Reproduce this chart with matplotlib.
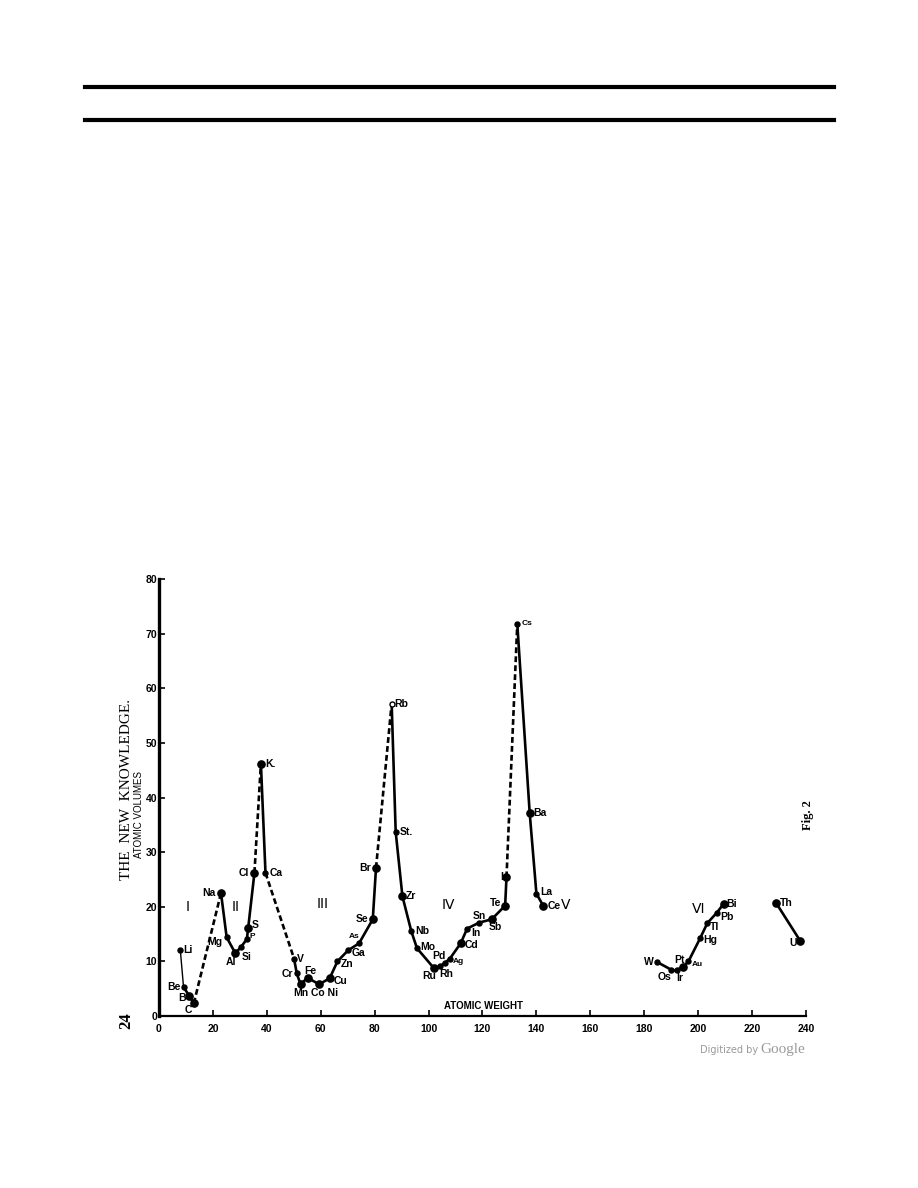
""" Lothar Meyer atomic volume curve, redrawn from a scanned page
    of 'The New Knowledge' (p. 24).
"""

###########
# Imports #
###########
import matplotlib
matplotlib.use("Agg")
import matplotlib.pyplot as plt
from matplotlib.lines import Line2D


########
# Data #
########
# Main curve, Li .. Ce
main_names = ["Li", "Be", "B", "C", "Na", "Mg", "Al", "Si", "P", "S", "Cl",
              "K.", "Ca", "V", "Cr", "Mn", "Fe", "Co Ni", "Cu", "Zn", "Ga",
              "As", "Se", "Br", "Rb", "St.", "Zr", "Nb", "Mo", "Ru", "Rh",
              "Pd", "Ag", "Cd", "In", "Sn", "Sb", "Te", "I", "Cs", "Ba",
              "La", "Ce"]
main_weight = [7.9, 9.1, 11.2, 12.9, 23.0, 25.1, 28.3, 30.4, 32.6, 33.1, 35.4,
               37.8, 39.5, 50.1, 51.1, 52.5, 55.1, 59.4, 63.3, 66.2, 70.1,
               74.2, 79.3, 80.5, 86.3, 87.8, 90.3, 93.6, 95.7, 102.0, 104.2,
               106.0, 107.9, 111.9, 114.3, 118.8, 123.4, 128.4, 128.9, 132.9,
               137.5, 140.0, 142.5]
main_volume = [12.1, 5.3, 3.7, 2.3, 22.5, 14.4, 11.5, 12.6, 14.1, 16.2, 26.2,
               46.2, 26.2, 10.5, 7.8, 5.8, 7.0, 5.8, 6.9, 10.0, 12.0,
               13.3, 17.7, 27.1, 57.2, 33.7, 21.9, 15.5, 12.4, 8.75, 9.1,
               9.7, 10.5, 13.3, 16.0, 17.1, 17.7, 20.2, 25.4, 71.8,
               37.2, 22.4, 20.2]

# Heavy metals, W .. Bi
heavy_names = ["W", "Os", "Ir", "Pt", "Au", "Hg", "Tl", "Pb", "Bi"]
heavy_weight = [184.7, 189.9, 192.3, 194.3, 196.4, 200.7, 203.4, 206.9, 209.4]
heavy_volume = [9.9, 8.5, 8.5, 8.9, 10.0, 14.2, 17.0, 18.9, 20.5]

# Th, U
last_names = ["Th", "U"]
last_weight = [228.9, 237.8]
last_volume = [20.7, 13.8]

# Periods marked on the chart
period_names = ["I", "II", "III", "IV", "V", "VI"]
period_weight = [10.7, 28.6, 60.6, 107.5, 151.0, 200.3]
period_volume = [19.9, 19.9, 20.5, 20.4, 20.4, 19.5]

# segments (starting element) drawn dashed
dashed_from = {"C", "Cl", "Ca", "Br", "I"}

#########
# Style #
#########
big_dots = {"B", "C", "Na", "Al", "S", "Cl", "K.", "Mn", "Fe", "Co Ni", "Cu",
            "Se", "Br", "Zr", "Ru", "Cd", "Sb", "Te", "I", "Ba", "Ce", "Pt",
            "Bi", "Th", "U"}
small_text = {"As", "Ag", "Cs", "P", "Au"}

# label offsets in image pixels (dx, dy down), alignment
label_pos = {
    "Li": (3, 0, "left"), "Be": (-3, 0, "right"), "B": (-3, 2, "right"),
    "C": (-2, 7, "right"), "Na": (-5, 0, "right"), "Mg": (-4, 5, "right"),
    "Al": (-4, 9, "center"), "Si": (1, 10, "left"), "P": (3, -2, "left"),
    "S": (3, -3, "left"), "Cl": (-5, 0, "right"), "K.": (4, 0, "left"),
    "Ca": (4, 0, "left"), "V": (3, 0, "left"), "Cr": (-4, 1, "right"),
    "Mn": (0, 9, "center"), "Fe": (3, -7, "center"),
    "Co Ni": (5, 9, "center"), "Cu": (4, 3, "left"), "Zn": (3, 3, "left"),
    "Ga": (4, 3, "left"), "As": (-5, -7, "center"), "Se": (-4, 0, "right"),
    "Br": (-5, 0, "right"), "Rb": (3, 0, "left"), "St.": (4, 0, "left"),
    "Zr": (3, 0, "left"), "Nb": (4, 0, "left"), "Mo": (3, -1, "left"),
    "Ru": (-5, 8, "center"), "Rh": (6, 8, "center"), "Pd": (-6, -7, "center"),
    "Ag": (3, 3, "left"), "Cd": (4, 2, "left"), "In": (4, 4, "left"),
    "Sn": (0, -7, "center"), "Sb": (4, 8, "center"), "Te": (-4, -3, "right"),
    "I": (-3, 0, "right"), "Cs": (4, 0, "left"), "Ba": (4, 0, "left"),
    "La": (4, -2, "left"), "Ce": (4, 0, "left"), "W": (-3, 0, "right"),
    "Os": (-6, 7, "center"), "Ir": (2, 8, "center"), "Pt": (-3, -7, "center"),
    "Au": (3, 3, "left"), "Hg": (3, 2, "left"), "Tl": (3, 4, "left"),
    "Pb": (3, 4, "left"), "Bi": (3, 0, "left"), "Th": (4, 0, "left"),
    "U": (-3, 2, "right"),
}

LABEL_FONT = "Liberation Sans"
PX = 0.72  # image pixel -> point at 100 dpi


def draw_series(ax, names, xs, ys):
    """ Draw one run of the curve, segment by segment. """
    for i in range(len(xs) - 1):
        ls = (0, (2.2, 1.2)) if names[i] in dashed_from else "-"
        lw = 1.0 if names[i] == "Li" else 1.9
        ax.plot(xs[i:i + 2], ys[i:i + 2], color="black", lw=lw, ls=ls,
                solid_capstyle="round", zorder=2)
    for name, x, y in zip(names, xs, ys):
        ms = 5.2 if name in big_dots else 3.6
        mfc = "white" if name == "Rb" else "black"
        ax.plot(x, y, "o", ms=ms, mfc=mfc, mec="black", mew=1.0, zorder=3)
        dx, dy, ha = label_pos[name]
        fs = 6 if name in small_text else 7.5
        ax.annotate(name, (x, y), xytext=(dx * PX, -dy * PX),
                    textcoords="offset points", ha=ha, va="center",
                    fontsize=fs, fontweight="bold", family=LABEL_FONT)


#########
# BEGIN #
#########
fig = plt.figure(figsize=(9.18, 11.88), dpi=100)
ax = fig.add_axes([159 / 918, 1 - 1016 / 1188, (806 - 159) / 918,
                   (1016 - 579) / 1188])

draw_series(ax, main_names, main_weight, main_volume)
draw_series(ax, heavy_names, heavy_weight, heavy_volume)
draw_series(ax, last_names, last_weight, last_volume)

for name, x, y in zip(period_names, period_weight, period_volume):
    ax.text(x, y, name, ha="center", va="center", fontsize=10,
            family="DejaVu Sans")

# Axes
ax.set_xlim(0, 240)
ax.set_ylim(0, 80)
ax.spines["top"].set_visible(False)
ax.spines["right"].set_visible(False)
ax.spines["left"].set_linewidth(2.4)
ax.spines["bottom"].set_linewidth(1.6)
ax.set_xticks(range(0, 241, 20))
ax.set_yticks(range(0, 81, 10))
ax.tick_params(axis="both", direction="in", length=4, width=1.2,
               labelsize=7.5)
ax.tick_params(axis="x", pad=6)
ax.tick_params(axis="y", pad=1.5)
for lab in ax.get_xticklabels() + ax.get_yticklabels():
    lab.set_fontweight("bold")
    lab.set_family(LABEL_FONT)
ax.patch.set_alpha(0)

ax.text(0.501, 0.012, "ATOMIC WEIGHT", transform=ax.transAxes, ha="center",
        va="bottom", fontsize=7, fontweight="bold", family=LABEL_FONT)
fig.text(138.5 / 918, 1 - 815 / 1188, "ATOMIC VOLUMES", rotation=90,
         ha="center", va="center", fontsize=7, family=LABEL_FONT)

# Page furniture
for y in (87, 120):
    fig.add_artist(Line2D([85 / 918, 834 / 918], [1 - y / 1188, 1 - y / 1188],
                          color="black", lw=3))
fig.text(126 / 918, 1 - 790 / 1188, "THE  NEW  KNOWLEDGE.", rotation=90,
         ha="center", va="center", fontsize=11, family="Liberation Serif")
fig.text(126 / 918, 1 - 1021 / 1188, "24", rotation=90, ha="center",
         va="center", fontsize=12, fontweight="bold",
         family="Liberation Serif")
fig.text(808 / 918, 1 - 815 / 1188, "Fig. 2", rotation=90, ha="center",
         va="center", fontsize=9, fontweight="bold",
         family="Liberation Serif")
fig.text(758 / 918, 1 - 1050 / 1188, "Digitized by", ha="right",
         va="center", fontsize=7, color="#9a9a9a", family="DejaVu Sans")
fig.text(760 / 918, 1 - 1049 / 1188, "Google", ha="left", va="center",
         fontsize=11, color="#9a9a9a", family="Liberation Serif")

fig.savefig("out.png", dpi=100)
